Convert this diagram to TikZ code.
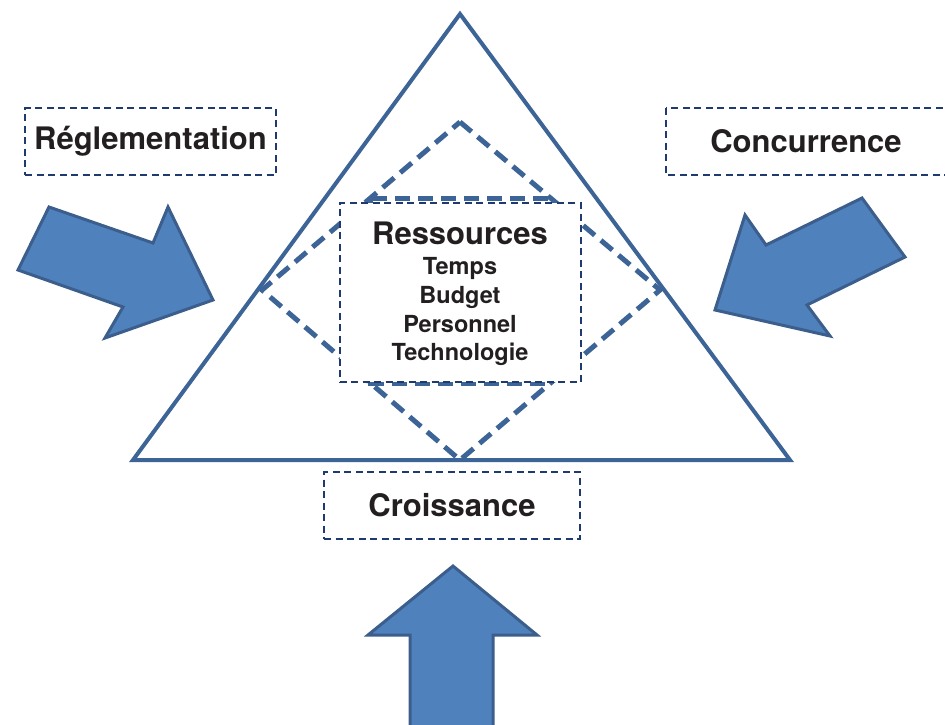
\documentclass[tikz,border=0pt]{standalone}
\usepackage{fontspec}
\setmainfont{TeX Gyre Heros}
\usepackage{tikz}
\usetikzlibrary{calc}

\definecolor{trait}{HTML}{3C6496}
\definecolor{remplir}{HTML}{4F81BD}
\definecolor{bord}{HTML}{3B5E8C}
\definecolor{pointille}{HTML}{1F3A6E}
\definecolor{texte}{HTML}{231F20}

\begin{document}
\begin{tikzpicture}[x=1pt,y=-1pt,
    cadre/.style={draw=pointille,line width=2pt,dash pattern=on 7pt off 4.5pt,text=texte,inner sep=0pt},
    grand/.style={font=\bfseries\fontsize{31}{38}\selectfont},
    petit/.style={text=texte,anchor=base,font=\bfseries\fontsize{23.5}{29}\selectfont},
    fleche/.style={fill=remplir,draw=bord,line width=3pt,line join=miter},
    losange/.style={draw=trait,line width=5pt,dash pattern=on 15pt off 8pt}]
\useasboundingbox (0,0) rectangle (945,724);
\clip (0,0) rectangle (945,724);
			% Triangle
\coordinate (sommet) at (460,14);
\coordinate (gauche) at (133,460);
\coordinate (droite) at (790,460);
\draw [trait,line width=4pt,line join=miter] (sommet) -- (gauche) -- (droite) -- cycle;
			% Losange et rectangle
\coordinate (lh) at (460,122);
\coordinate (ld) at (660,290);
\coordinate (lb) at (460,460);
\coordinate (lg) at (262,290);
\draw [losange] (lh) -- (ld) -- (lb) -- (lg) -- cycle;
\draw [losange] (370,198) rectangle (550,383);
			% Cadres
\node (ress) [cadre,fill=white,minimum width=241pt,minimum height=179pt] at (460,292.5) {};
\node (titre) [text=texte,grand,anchor=base] at (460,244) {Ressources};
\node (temps) [petit] at (460,274) {Temps};
\node (budget) [petit] at (460,303) {Budget};
\node (perso) [petit] at (460,332) {Personnel};
\node (techno) [petit] at (460,360) {Technologie};
\node (regl) [cadre,grand,minimum width=251pt,minimum height=67pt] at (150.5,141.5) {Réglementation};
\draw [cadre] (666,108) rectangle (950,175);
\node (conc) [text=texte,grand] at (806,141) {Concurrence};
\node (crois) [cadre,grand,minimum width=256pt,minimum height=67pt] at (452,505.5) {Croissance};
			% Flèches
\filldraw [fleche] (49,207) -- (153,243) -- (168,207) -- (213,300) -- (105,338) -- (123,307) -- (18,270) -- cycle;
\filldraw [fleche] (862,198) -- (766,245) -- (745,215) -- (715,310) -- (830,336) -- (807,305) -- (905,257) -- cycle;
\filldraw [fleche] (410,740) -- (410,635) -- (368,635) -- (453,566) -- (537,635) -- (493,635) -- (493,740) -- cycle;
\end{tikzpicture}
\end{document}
